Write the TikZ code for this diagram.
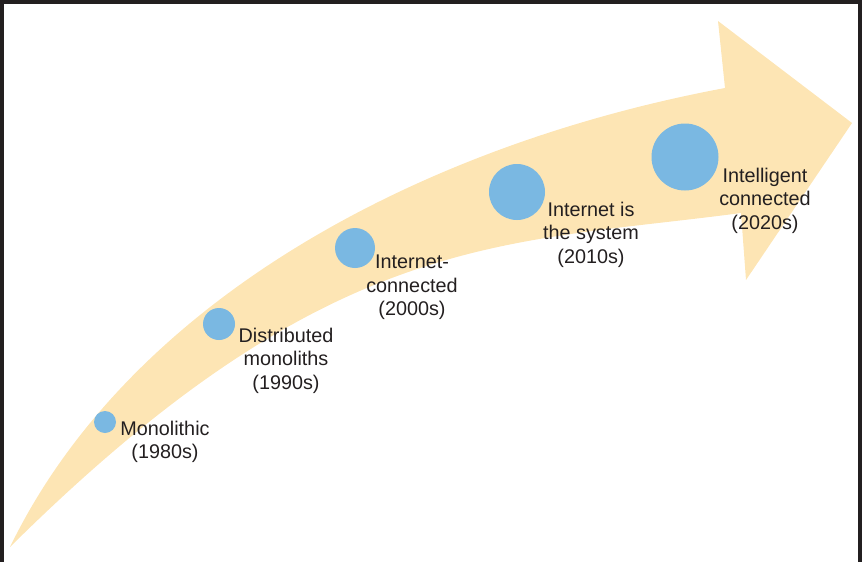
\documentclass[tikz,border=0pt]{standalone}
\usepackage{fontspec}
\setmainfont{Liberation Sans}
\definecolor{peach}{RGB}{253,229,180}
\definecolor{dotblue}{RGB}{122,184,226}
\definecolor{inkdark}{RGB}{35,31,32}
\tikzset{
  era/.style={circle, fill=dotblue, inner sep=0pt},
  eralabel/.style={align=center, anchor=north, inner sep=0pt, text=inkdark,
    font={\fontsize{19.8}{23.3}\selectfont}},
  frameline/.style={fill=inkdark}
}
\begin{document}
\begin{tikzpicture}[x=1pt,y=-1pt]
\useasboundingbox (0,0) rectangle (862,562);
% frame
\fill[frameline] (0,0) rectangle (3.5,562);
\fill[frameline] (0,0) rectangle (862,3.5);
\fill[frameline] (858,0) rectangle (862,562);
% curved arrow
\coordinate (tail) at (10,547);
\coordinate (shafttop) at (725,88);
\coordinate (headtop) at (718,21);
\coordinate (headtip) at (852,123);
\coordinate (headbot) at (746,280);
\coordinate (shaftbot) at (741,213);
\fill[peach] (tail) .. controls (130,300) and (420,145) .. (shafttop)
  -- (headtop) -- (headtip) -- (headbot) -- (shaftbot)
  .. controls (500,245) and (330,230) .. (tail) -- cycle;
% eras
\node[era, minimum size=22pt] (e1) at (105,422) {};
\node[era, minimum size=32pt] (e2) at (219,324) {};
\node[era, minimum size=40pt] (e3) at (355,248) {};
\node[era, minimum size=56pt] (e4) at (517,192) {};
\node[era, minimum size=67pt] (e5) at (685,157) {};
% labels
\node[eralabel] (l1) at (165,421) {Monolithic\\(1980s)};
\node[eralabel] (l2) at (286,328) {Distributed\\monoliths\\(1990s)};
\node[eralabel] (l3) at (412,255) {Internet-\\connected\\(2000s)};
\node[eralabel] (l4) at (591,202) {Internet is\\the system\\(2010s)};
\node[eralabel] (l5) at (765,168) {Intelligent\\connected\\(2020s)};
\end{tikzpicture}
\end{document}
